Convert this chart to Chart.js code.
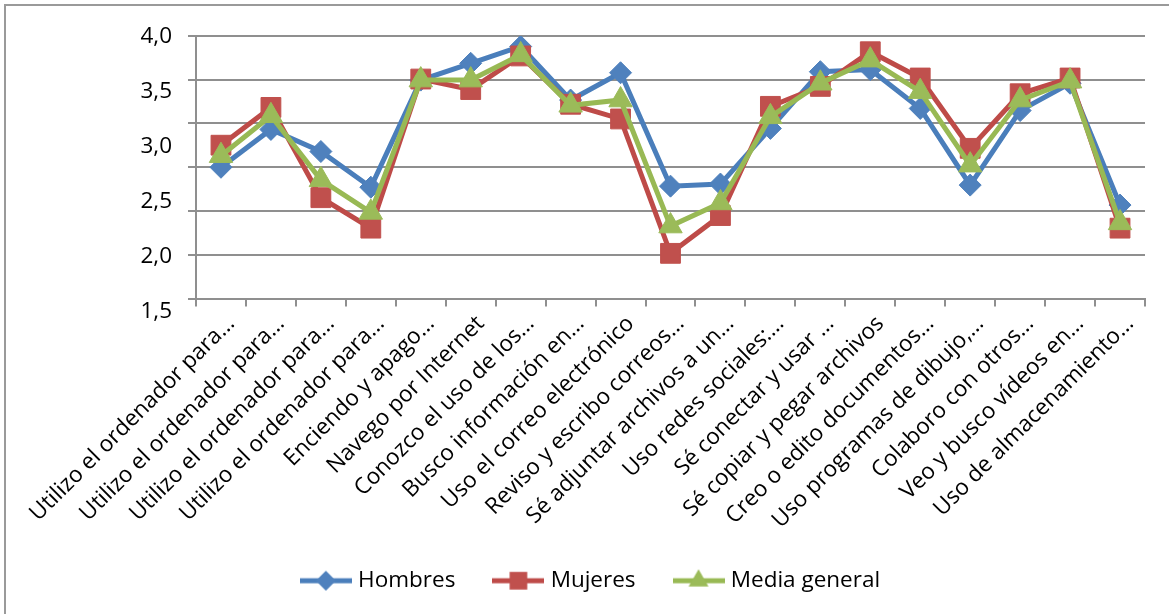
<!DOCTYPE html>
<html>
<head>
<meta charset="utf-8">
<script src="https://cdn.jsdelivr.net/npm/chart.js@4/dist/chart.umd.min.js"></script>
<style>
  html, body { margin: 0; padding: 0; background: #ffffff; overflow: hidden; }
  #wrap { position: relative; width: 1169px; height: 614px; }
</style>
</head>
<body>
<div id="wrap"><canvas id="c" width="1169" height="614"></canvas></div>
<script>
// ---- Data -------------------------------------------------------------
const categories = [
  "Utilizo el ordenador para…",
  "Utilizo el ordenador para…",
  "Utilizo el ordenador para…",
  "Utilizo el ordenador para…",
  "Enciendo y apago…",
  "Navego por Internet",
  "Conozco el uso de los…",
  "Busco información en…",
  "Uso el correo electrónico",
  "Reviso y escribo correos…",
  "Sé adjuntar archivos a un…",
  "Uso redes sociales:…",
  "Sé conectar y usar …",
  "Sé copiar y pegar archivos",
  "Creo o edito documentos…",
  "Uso programas de dibujo,…",
  "Colaboro con otros…",
  "Veo y busco vídeos en…",
  "Uso de almacenamiento…"
];
const hombres      = [2.75, 3.11, 2.90, 2.56, 3.58, 3.74, 3.90, 3.39, 3.65, 2.57, 2.59, 3.12, 3.66, 3.68, 3.31, 2.58, 3.29, 3.55, 2.39];
const mujeres      = [2.96, 3.32, 2.46, 2.17, 3.59, 3.49, 3.81, 3.35, 3.21, 1.93, 2.29, 3.33, 3.52, 3.85, 3.60, 2.93, 3.45, 3.60, 2.17];
const mediaGeneral = [2.86, 3.24, 2.63, 2.32, 3.58, 3.58, 3.82, 3.34, 3.39, 2.19, 2.41, 3.23, 3.55, 3.77, 3.47, 2.77, 3.39, 3.57, 2.22];
const seriesNames  = ["Hombres", "Mujeres", "Media general"];
const yMin = 1.5, yMax = 4.0, yLabelStep = 0.5;
const gridLineCount = 7;

// ---- Styles ------------------------------------------------------------
const FONT = "'Open Sans', 'DejaVu Sans', sans-serif";
const GRID = '#8f8f8f';
const colors = {
  blue:  { line: '#4A7EBB', fill: '#4F81BD' },
  red:   { line: '#BE4B48', fill: '#C0504D' },
  green: { line: '#98B954', fill: '#9BBB59' }
};

Chart.defaults.font.family = FONT;
Chart.defaults.font.size = 22;
Chart.defaults.color = '#000000';

function legendIcon(c, style, radius) {
  const cv = document.createElement('canvas');
  cv.width = 52; cv.height = 24;
  const g = cv.getContext('2d');
  g.strokeStyle = c.line; g.lineWidth = 5;
  g.beginPath(); g.moveTo(0, 12); g.lineTo(52, 12); g.stroke();
  g.fillStyle = c.fill; g.strokeStyle = c.fill;
  Chart.helpers.drawPoint(g, { pointStyle: style, radius: radius, borderWidth: 0, rotation: 0 }, 26, 12);
  return cv;
}
const legendIcons = [
  legendIcon(colors.blue, 'rectRot', 10),
  legendIcon(colors.red, 'rect', 12.5),
  legendIcon(colors.green, 'triangle', 11.5)
];

const frame = {
  id: 'frame',
  beforeDraw(chart) {
    const ctx = chart.ctx;
    ctx.save();
    ctx.fillStyle = '#ffffff';
    ctx.fillRect(0, 0, chart.width, chart.height);
    ctx.strokeStyle = '#9a9a9a';
    ctx.lineWidth = 2;
    ctx.strokeRect(5, 5, chart.width + 20, chart.height + 20);
    ctx.restore();
  }
};
// Spread the y tick labels as in the reference (they do not sit on the gridlines)
const yLabelSpread = {
  id: 'yLabelSpread',
  afterLayout(chart) {
    const s = chart.scales.yl;
    s.top = 37; s.bottom = 312;
    s.configure();
  }
};

function ds(label, data, c, style, radius, order) {
  return {
    label, data, order,
    borderColor: c.line, backgroundColor: c.fill,
    borderWidth: 5,
    pointStyle: style, pointRadius: radius, pointHoverRadius: radius,
    pointBackgroundColor: c.fill, pointBorderColor: c.fill, pointBorderWidth: 1,
    tension: 0, fill: false, yAxisID: 'y'
  };
}

new Chart(document.getElementById('c'), {
  type: 'line',
  data: {
    labels: categories,
    datasets: [
      ds(seriesNames[0], hombres, colors.blue, 'rectRot', 11, 2),
      ds(seriesNames[1], mujeres, colors.red, 'rect', 14, 1),
      ds(seriesNames[2], mediaGeneral, colors.green, 'triangle', 13.5, 0)
    ]
  },
  options: {
    responsive: false,
    animation: false,
    events: [],
    layout: { autoPadding: false, padding: { left: 40, right: 24, top: 36, bottom: 12 } },
    plugins: {
      tooltip: { enabled: false },
      legend: {
        position: 'bottom',
        labels: {
          usePointStyle: true,
          pointStyleWidth: 42,
          padding: 42,
          font: { size: 22.5, family: FONT },
          color: '#000000',
          sort: (a, b) => a.datasetIndex - b.datasetIndex,
          generateLabels(chart) {
            const items = Chart.defaults.plugins.legend.labels.generateLabels(chart);
            items.forEach(it => { it.pointStyle = legendIcons[it.datasetIndex]; });
            return items;
          }
        }
      }
    },
    scales: {
      x: {
        type: 'category',
        offset: true,
        grid: { offset: true, drawOnChartArea: false, drawTicks: true, tickLength: 8, color: GRID, lineWidth: 2 },
        border: { color: GRID, width: 2 },
        ticks: { minRotation: 45, maxRotation: 45, autoSkip: false, labelOffset: 10, padding: 4, color: '#000', font: { size: 22.5, family: FONT } },
        afterFit(s) { s.height = 229; s.paddingLeft = 0; s.paddingRight = 0; }
      },
      y: {
        position: 'left', weight: 0,
        min: yMin, max: yMax,
        grid: { color: GRID, lineWidth: 2, drawTicks: true, tickLength: 8 },
        border: { color: GRID, width: 2 },
        ticks: { display: false },
        afterBuildTicks(s) {
          const n = gridLineCount - 1;
          s.ticks = Array.from({ length: gridLineCount }, (_, i) => ({ value: yMin + (yMax - yMin) * i / n }));
        },
        afterFit(s) { s.width = 8; s.paddingTop = 0; s.paddingBottom = 0; }
      },
      yl: {
        position: 'left', weight: 1,
        min: yMin, max: yMax,
        grid: { display: false, drawTicks: false },
        border: { display: false },
        ticks: {
          stepSize: yLabelStep, padding: 16, color: '#000',
          font: { size: 22.5, family: FONT },
          callback: v => Number(v).toFixed(1).replace('.', ',')
        },
        afterFit(s) { s.width = 148; s.paddingTop = 0; s.paddingBottom = 0; }
      }
    }
  },
  plugins: [frame, yLabelSpread]
});
</script>
</body>
</html>
